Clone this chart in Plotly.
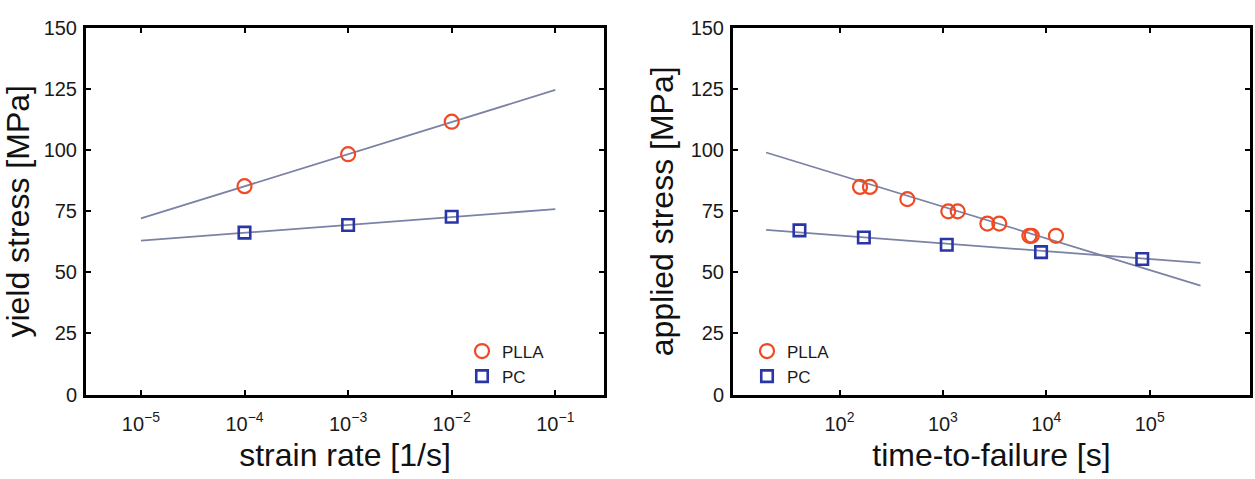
import plotly.graph_objects as go

# ---------------- data ----------------
# left panel: yield stress vs strain rate
rate = [1e-4, 1e-3, 1e-2]
yield_plla = [85.3, 98.4, 111.7]
yield_pc = [66.3, 69.4, 72.8]
rate_fit = [1e-5, 1e-1]
yield_plla_fit = [72.1, 124.7]
yield_pc_fit = [63.0, 75.9]

# right panel: applied stress vs time-to-failure
ttf_plla = [158, 197, 453, 1127, 1390, 2690, 3510, 6860, 7230, 12400]
stress_plla = [85, 85, 80, 75, 75, 70, 70, 65, 65, 65]
ttf_pc = [41, 172, 1090, 8900, 84700]
stress_pc = [67.2, 64.3, 61.3, 58.3, 55.5]
ttf_fit = [19.5, 3.1e5]
stress_plla_fit = [99.1, 44.6]
stress_pc_fit = [67.4, 53.9]

x_left_ticks = [1e-5, 1e-4, 1e-3, 1e-2, 1e-1]
x_left_labels = ["10<sup>−5</sup>", "10<sup>−4</sup>", "10<sup>−3</sup>", "10<sup>−2</sup>", "10<sup>−1</sup>"]
x_right_ticks = [1e2, 1e3, 1e4, 1e5]
x_right_labels = ["10<sup>2</sup>", "10<sup>3</sup>", "10<sup>4</sup>", "10<sup>5</sup>"]
y_ticks = [0, 25, 50, 75, 100, 125, 150]

# ---------------- style ----------------
FONT = "Liberation Sans, Arial, Helvetica, sans-serif"
LINE_C = "#7c82a4"
RED = "#ef4a26"
BLUE = "#2b36a6"

W, H = 1255, 479

fig = go.Figure()

circle = dict(symbol="circle-open", size=14, color=RED, line=dict(width=2.2, color=RED))
square = dict(symbol="square-open", size=11.5, color=BLUE, line=dict(width=2.6, color=BLUE))

# left
fig.add_trace(go.Scatter(x=rate_fit, y=yield_plla_fit, mode="lines", line=dict(color=LINE_C, width=1.8),
                         showlegend=False, xaxis="x", yaxis="y"))
fig.add_trace(go.Scatter(x=rate_fit, y=yield_pc_fit, mode="lines", line=dict(color=LINE_C, width=1.8),
                         showlegend=False, xaxis="x", yaxis="y"))
fig.add_trace(go.Scatter(x=rate, y=yield_plla, mode="markers", marker=circle, name="PLLA",
                         legend="legend", xaxis="x", yaxis="y"))
fig.add_trace(go.Scatter(x=rate, y=yield_pc, mode="markers", marker=square, name="PC",
                         legend="legend", xaxis="x", yaxis="y"))
# right
fig.add_trace(go.Scatter(x=ttf_fit, y=stress_plla_fit, mode="lines", line=dict(color=LINE_C, width=1.8),
                         showlegend=False, xaxis="x2", yaxis="y2"))
fig.add_trace(go.Scatter(x=ttf_fit, y=stress_pc_fit, mode="lines", line=dict(color=LINE_C, width=1.8),
                         showlegend=False, xaxis="x2", yaxis="y2"))
fig.add_trace(go.Scatter(x=ttf_plla, y=stress_plla, mode="markers", marker=circle, name="PLLA",
                         legend="legend2", xaxis="x2", yaxis="y2"))
fig.add_trace(go.Scatter(x=ttf_pc, y=stress_pc, mode="markers", marker=square, name="PC",
                         legend="legend2", xaxis="x2", yaxis="y2"))

common_axis = dict(showline=True, linewidth=3, linecolor="black", mirror="ticks",
                   ticks="inside", ticklen=5, tickwidth=2, tickcolor="black",
                   showgrid=False, zeroline=False,
                   tickfont=dict(family=FONT, size=20, color="#1a1a1a"))

ydom = [(H - 402) / H, (H - 18) / H]
TITLE_FONT = dict(size=32, color="#111111")

fig.update_layout(
    width=W, height=H,
    margin=dict(l=0, r=0, t=0, b=0),
    paper_bgcolor="white", plot_bgcolor="white",
    font=dict(family=FONT, color="#1a1a1a"),
    xaxis=dict(type="log", range=[-5.53, -0.53], domain=[86 / W, 604 / W],
               tickvals=x_left_ticks, ticktext=x_left_labels, ticklabelstandoff=9,
               title=dict(text="strain rate [1/s]", font=TITLE_FONT, standoff=11),
               anchor="y", **common_axis),
    yaxis=dict(range=[0, 150], domain=ydom, tickvals=y_ticks, ticklabelstandoff=2,
               title=dict(text="yield stress [MPa]", font=TITLE_FONT, standoff=8),
               anchor="x", **common_axis),
    xaxis2=dict(type="log", range=[0.97, 5.97], domain=[733 / W, 1250 / W],
                tickvals=x_right_ticks, ticktext=x_right_labels, ticklabelstandoff=9,
                title=dict(text="time-to-failure [s]", font=TITLE_FONT, standoff=11),
                anchor="y2", **common_axis),
    yaxis2=dict(range=[0, 150], domain=ydom, tickvals=y_ticks, ticklabelstandoff=2,
                title=dict(text="applied stress [MPa]", font=TITLE_FONT, standoff=8),
                anchor="x2", **common_axis),
    legend=dict(x=462 / W, y=1 - 338 / H, xanchor="left", yanchor="top",
                bgcolor="rgba(0,0,0,0)", font=dict(size=17, family=FONT)),
    legend2=dict(x=747 / W, y=1 - 338 / H, xanchor="left", yanchor="top",
                 bgcolor="rgba(0,0,0,0)", font=dict(size=17, family=FONT)),
)

fig.write_html("out.html")
